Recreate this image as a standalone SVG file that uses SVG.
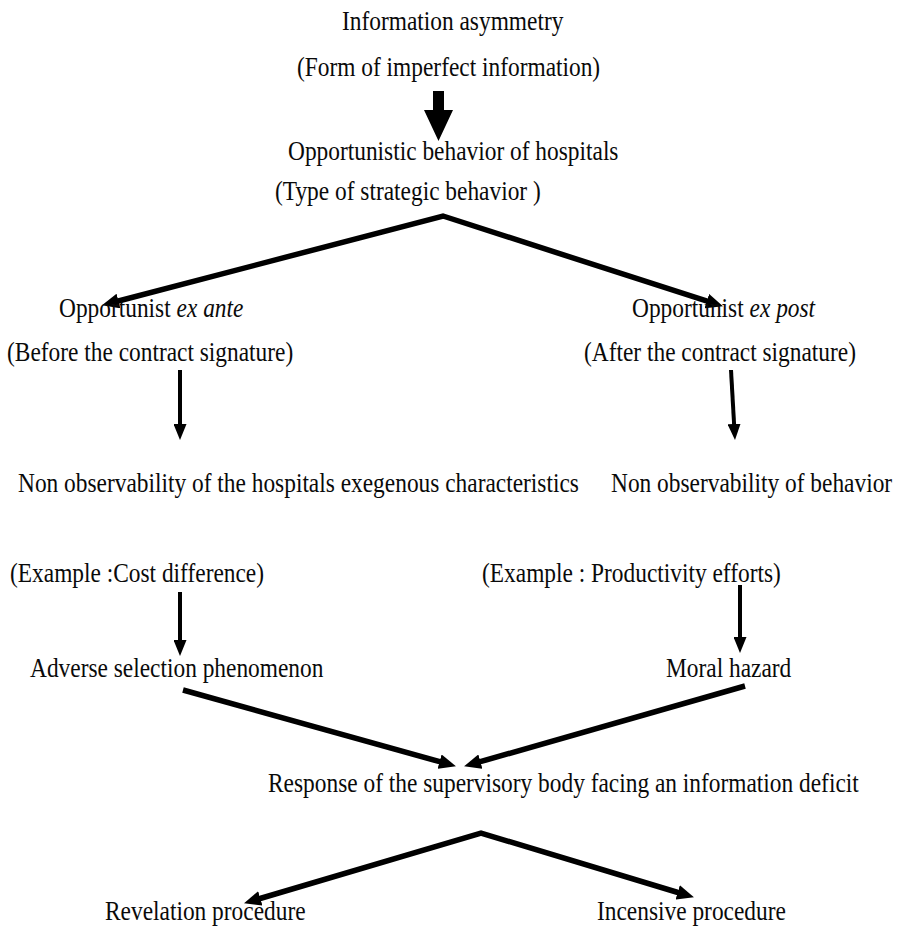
<svg xmlns="http://www.w3.org/2000/svg" width="904" height="926" viewBox="0 0 904 926">
<style>
text{font-family:"Liberation Serif","Times New Roman",serif;font-size:27px;fill:#0a0a0a}
.it{font-style:italic}
.c{fill:none;stroke:#000;stroke-linejoin:miter}
.thick{stroke-width:5.5}
.thin{stroke-width:4}
</style>
<defs>
<marker id="ahT" viewBox="0 0 17 15" refX="2" refY="7.5" markerWidth="17" markerHeight="15" orient="auto-start-reverse" markerUnits="userSpaceOnUse"><path d="M0,0 L17,7.5 L0,15 z" fill="#000"/></marker>
<marker id="ahV" viewBox="0 0 16 13" refX="2" refY="6.5" markerWidth="16" markerHeight="13" orient="auto" markerUnits="userSpaceOnUse"><path d="M0,0 L16,6.5 L0,13 z" fill="#000"/></marker>
</defs>
<rect width="904" height="926" fill="#fff"/>
<g id="connectors">
<path id="bigArrow" d="M433,91 H444 V110 H453 L438.5,141 L424,110 H433 Z" fill="#000"/>
<path class="c thick" d="M116.5,301.5 L443,216 L708.7,301.7" marker-start="url(#ahT)" marker-end="url(#ahT)"/>
<line class="c thin" x1="180" y1="370" x2="180" y2="426" marker-end="url(#ahV)"/>
<line class="c thin" x1="731" y1="370" x2="734.2" y2="426" marker-end="url(#ahV)"/>
<line class="c thin" x1="180" y1="592" x2="180" y2="642" marker-end="url(#ahV)"/>
<line class="c thin" x1="740" y1="585" x2="740" y2="639" marker-end="url(#ahV)"/>
<line class="c thick" x1="183" y1="690" x2="441.5" y2="762.2" marker-end="url(#ahT)"/>
<line class="c thick" x1="745" y1="686" x2="478.5" y2="762.2" marker-end="url(#ahT)"/>
<path class="c thick" d="M258.4,899 L481,833 L679.6,893" marker-start="url(#ahT)" marker-end="url(#ahT)"/>
</g>
<g id="n1"><text transform="translate(342 30) scale(0.866 1)">Information asymmetry</text></g>
<g id="n2"><text transform="translate(297 76) scale(0.866 1)">(Form of imperfect information)</text></g>
<g id="n3"><text transform="translate(288 160) scale(0.866 1)">Opportunistic behavior of hospitals</text></g>
<g id="n4"><text transform="translate(275 200) scale(0.866 1)">(Type of strategic behavior )</text></g>
<g id="n5"><text transform="translate(59 317) scale(0.866 1)">Opportunist <tspan class="it">ex ante</tspan></text></g>
<g id="n6"><text transform="translate(632 317) scale(0.866 1)">Opportunist <tspan class="it">ex post</tspan></text></g>
<g id="n7"><text transform="translate(7 361) scale(0.866 1)">(Before the contract signature)</text></g>
<g id="n8"><text transform="translate(584 361) scale(0.866 1)">(After the contract signature)</text></g>
<g id="n9"><text transform="translate(18 492) scale(0.866 1)">Non observability of the hospitals exegenous characteristics</text></g>
<g id="n10"><text transform="translate(611 492) scale(0.866 1)">Non observability of behavior</text></g>
<g id="n11"><text transform="translate(10 582) scale(0.866 1)">(Example :Cost difference)</text></g>
<g id="n12"><text transform="translate(482 582) scale(0.866 1)">(Example : Productivity efforts)</text></g>
<g id="n13"><text transform="translate(30 677) scale(0.866 1)">Adverse selection phenomenon</text></g>
<g id="n14"><text transform="translate(666 677) scale(0.866 1)">Moral hazard</text></g>
<g id="n15"><text transform="translate(268 792) scale(0.866 1)">Response of the supervisory body facing an information deficit</text></g>
<g id="n16"><text transform="translate(105 920) scale(0.866 1)">Revelation procedure</text></g>
<g id="n17"><text transform="translate(597 920) scale(0.866 1)">Incensive procedure</text></g>
</svg>
